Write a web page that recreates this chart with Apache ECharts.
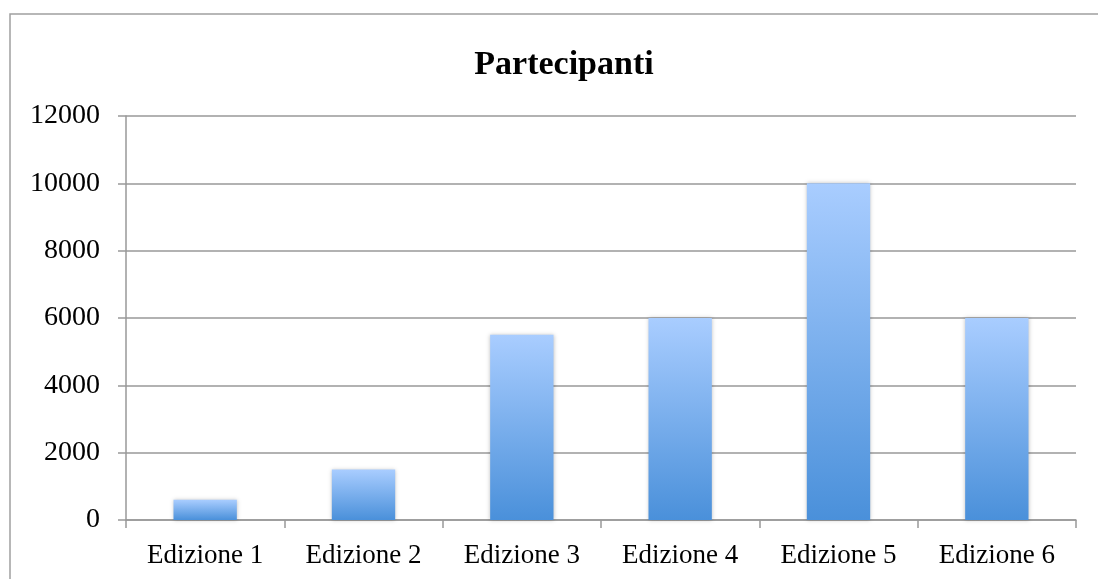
<!DOCTYPE html>
<html>
<head>
<meta charset="utf-8">
<script src="https://cdn.jsdelivr.net/npm/echarts@6/dist/echarts.min.js"></script>
<style>
  html, body { margin: 0; padding: 0; background: #fff; }
  #main { width: 1098px; height: 579px; }
</style>
</head>
<body>
<div id="main"></div>
<script type="text/javascript">
    var categories = ['Edizione 1', 'Edizione 2', 'Edizione 3', 'Edizione 4', 'Edizione 5', 'Edizione 6'];
    var partecipanti = [600, 1500, 5500, 6000, 10000, 6000];

    var myChart = echarts.init(document.getElementById('main'));
    var option = {
        animation: false,
        textStyle: { fontFamily: 'Liberation Serif' },
        graphic: [{
            type: 'rect',
            shape: { x: 10, y: 14, width: 1200, height: 700 },
            style: { fill: 'none', stroke: '#a0a0a0', lineWidth: 1.5 },
            z: -1
        }],
        title: {
            text: 'Partecipanti',
            left: 559,
            top: 43,
            textAlign: 'center',
            textStyle: { fontFamily: 'Liberation Serif', fontSize: 34, fontWeight: 'bold', color: '#000' }
        },
        grid: { left: 126, right: 22, top: 116, bottom: 59, containLabel: false },
        xAxis: {
            type: 'category',
            data: categories,
            axisLine: { lineStyle: { color: '#999', width: 1.5 } },
            axisTick: { show: true, length: 8, alignWithLabel: false, lineStyle: { color: '#999', width: 1.5 } },
            axisLabel: { color: '#000', fontSize: 27, margin: 22 }
        },
        yAxis: {
            type: 'value',
            min: 0,
            max: 12000,
            interval: 2000,
            axisLine: { show: true, lineStyle: { color: '#999', width: 1.5 } },
            axisTick: { show: true, length: 8, lineStyle: { color: '#999', width: 1.5 } },
            axisLabel: { color: '#000', fontSize: 28, margin: 26, padding: [6, 0, 0, 0], formatter: function (v) { return String(v); } },
            splitLine: { lineStyle: { color: '#999', width: 1.5 } }
        },
        series: [{
            name: 'Partecipanti',
            type: 'bar',
            data: partecipanti,
            barWidth: '40%',
            itemStyle: {
                color: new echarts.graphic.LinearGradient(0, 0, 0, 1, [
                    { offset: 0, color: '#a9cdff' },
                    { offset: 1, color: '#4a90da' }
                ]),
                shadowColor: 'rgba(0,0,0,0.25)',
                shadowBlur: 4
            }
        }]
    };
    myChart.setOption(option);
</script>
</body>
</html>
